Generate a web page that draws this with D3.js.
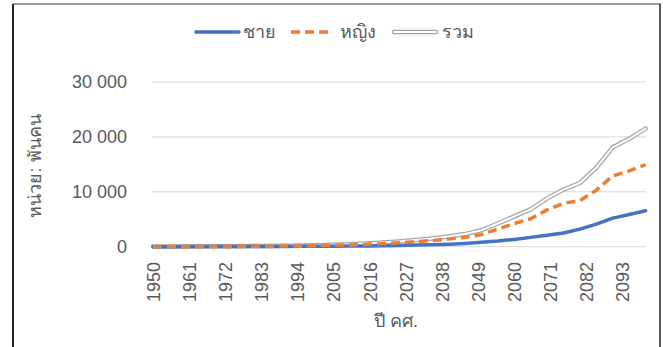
<!DOCTYPE html>
<html>
<head>
<meta charset="utf-8">
<script src="https://cdn.jsdelivr.net/npm/d3@7"></script>
<style>
  html, body { margin: 0; padding: 0; background: #fff; }
  svg { display: block; font-family: "Liberation Sans", Arial, "Noto Sans", "DejaVu Sans", sans-serif; }
</style>
</head>
<body>
<svg id="chart" width="663" height="347"></svg>
<script>
// ---- data (values in thousands of persons) ----
const years = [1950,1955,1960,1965,1970,1975,1980,1985,1990,1995,2000,2005,2010,2015,2020,2025,2030,2035,2040,2045,2050,2055,2060,2065,2070,2075,2080,2085,2090,2095,2100];
const male   = [10,12,15,18,22,27,33,40,50,60,75,95,120,150,190,240,300,370,460,600,790,1020,1330,1700,2100,2500,3200,4100,5200,5850,6550];
const female = [20,25,30,38,48,60,75,95,120,150,190,250,330,430,560,720,900,1120,1380,1700,2200,3200,4200,5100,6700,7900,8400,10300,12900,13800,14950];
const total  = [30,37,45,56,70,87,108,135,170,210,265,345,450,580,750,960,1200,1490,1840,2300,2990,4220,5530,6800,8800,10400,11600,14400,18100,19650,21500];
const xTickYears = [1950,1961,1972,1983,1994,2005,2016,2027,2038,2049,2060,2071,2082,2093];
const yTickValues = [0,10000,20000,30000];
const yTickLabels = ["0","10 000","20 000","30 000"];
const seriesNames = ["ชาย","หญิง","รวม"];
const yTitle = "หน่วย: พันคน";
const xTitle = "ปี คศ.";

// ---- layout ----
const svg = d3.select("#chart");
const x = d3.scaleLinear().domain([1950, 2100]).range([153, 645.6]);
const y = d3.scaleLinear().domain([0, 30000]).range([246.7, 82]);
const textColor = "#595959";

// frame (screenshot border)
svg.append("line").attr("x1", 13).attr("x2", 661).attr("y1", 4).attr("y2", 4)
  .attr("stroke", "#9a9a9a").attr("stroke-width", 2);
svg.append("line").attr("x1", 13).attr("x2", 13).attr("y1", 4).attr("y2", 347)
  .attr("stroke", "#222").attr("stroke-width", 2);
svg.append("line").attr("x1", 660).attr("x2", 660).attr("y1", 4).attr("y2", 347)
  .attr("stroke", "#222").attr("stroke-width", 1.5);

// gridlines
svg.append("g").selectAll("line").data(yTickValues).join("line")
  .attr("x1", 152).attr("x2", 646)
  .attr("y1", d => y(d)).attr("y2", d => y(d))
  .attr("stroke", "#d9d9d9").attr("stroke-width", 1);

// y axis labels
const yAxis = d3.axisLeft(y).tickValues(yTickValues)
  .tickFormat((d, i) => yTickLabels[i]).tickSize(0).tickPadding(0);
const gy = svg.append("g").attr("transform", "translate(127,0)").call(yAxis);
gy.select(".domain").remove();
gy.selectAll("text").attr("fill", textColor).attr("font-size", 18)
  .attr("font-family", "Liberation Sans, Arial, sans-serif");

// x axis labels (rotated)
const xAxis = d3.axisBottom(x).tickValues(xTickYears).tickFormat(d3.format("d")).tickSize(0);
const gx = svg.append("g").attr("transform", "translate(0,259)").call(xAxis);
gx.select(".domain").remove();
gx.selectAll("text")
  .attr("fill", textColor).attr("font-size", 18)
  .attr("font-family", "Liberation Sans, Arial, sans-serif")
  .attr("transform", "rotate(-90)")
  .attr("text-anchor", "end")
  .attr("x", -3).attr("y", 0).attr("dy", "0.35em");

// axis titles
svg.append("text").attr("transform", "translate(41,166) rotate(-90)")
  .attr("text-anchor", "middle").attr("fill", textColor).attr("font-size", 18)
  .text(yTitle);
svg.append("text").attr("x", 396).attr("y", 327)
  .attr("text-anchor", "middle").attr("fill", textColor).attr("font-size", 18)
  .text(xTitle);

// lines
const line = d3.line().x((d, i) => x(years[i])).y(d => y(d)).curve(d3.curveLinear);
const gLines = svg.append("g");
// total: double line (gray outline, white core)
gLines.append("path").attr("d", line(total)).attr("fill", "none")
  .attr("stroke", "#a5a5a5").attr("stroke-width", 4.5).attr("stroke-linejoin", "round").attr("stroke-linecap", "round");
gLines.append("path").attr("d", line(total)).attr("fill", "none")
  .attr("stroke", "#ffffff").attr("stroke-width", 2).attr("stroke-linejoin", "round").attr("stroke-linecap", "round");
gLines.append("path").attr("d", line(male)).attr("fill", "none")
  .attr("stroke", "#4472C4").attr("stroke-width", 3.5).attr("stroke-linejoin", "round").attr("stroke-linecap", "round");
gLines.append("path").attr("d", line(female)).attr("fill", "none")
  .attr("stroke", "#ED7D31").attr("stroke-width", 3.5).attr("stroke-dasharray", "9,5")
  .attr("stroke-linejoin", "round");

// legend
const lg = svg.append("g");
const legendY = 32;
lg.append("line").attr("x1", 196).attr("x2", 239).attr("y1", legendY).attr("y2", legendY)
  .attr("stroke", "#4472C4").attr("stroke-width", 3.5).attr("stroke-linecap", "round");
lg.append("text").attr("x", 243).attr("y", legendY).attr("dy", "0.35em")
  .attr("fill", textColor).attr("font-size", 18).text(seriesNames[0]);
lg.append("line").attr("x1", 291).attr("x2", 333).attr("y1", legendY).attr("y2", legendY)
  .attr("stroke", "#ED7D31").attr("stroke-width", 3.5).attr("stroke-dasharray", "9,5");
lg.append("text").attr("x", 340).attr("y", legendY).attr("dy", "0.35em")
  .attr("fill", textColor).attr("font-size", 18).text(seriesNames[1]);
lg.append("line").attr("x1", 394).attr("x2", 436).attr("y1", legendY).attr("y2", legendY)
  .attr("stroke", "#a5a5a5").attr("stroke-width", 4.5).attr("stroke-linecap", "round");
lg.append("line").attr("x1", 394).attr("x2", 436).attr("y1", legendY).attr("y2", legendY)
  .attr("stroke", "#ffffff").attr("stroke-width", 2).attr("stroke-linecap", "round");
lg.append("text").attr("x", 442).attr("y", legendY).attr("dy", "0.35em")
  .attr("fill", textColor).attr("font-size", 18).text(seriesNames[2]);
</script>
</body>
</html>
